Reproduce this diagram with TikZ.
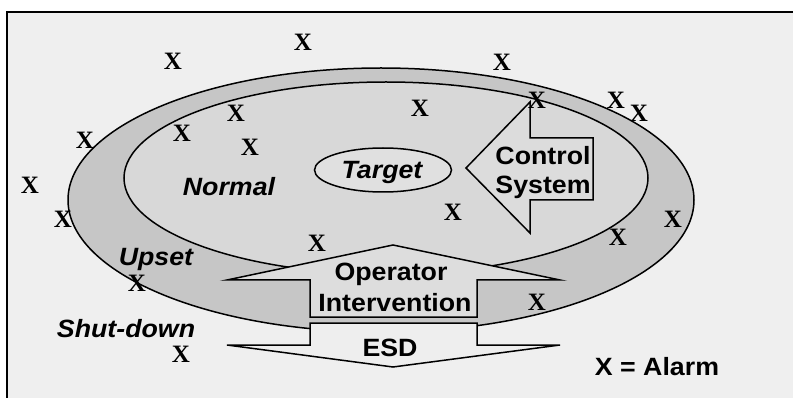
\documentclass[tikz,border=0pt]{standalone}
\usepackage{fontspec}
\usepackage{graphicx}
\setmainfont{Liberation Sans}
\newfontfamily\xfont{Liberation Serif}
\usetikzlibrary{shapes.geometric}
\definecolor{bgc}{HTML}{EFEFEF}
\definecolor{ringc}{HTML}{C6C6C6}
\definecolor{innerc}{HTML}{D8D8D8}
\definecolor{targc}{HTML}{E0E0E0}
\definecolor{ctrlc}{HTML}{DCDCDC}
\definecolor{operc}{HTML}{DDDDDD}
\definecolor{esdc}{HTML}{EEEEEE}
\newcommand{\widetxt}[1]{\scalebox{1.07}[1]{#1}}
\tikzset{
  lbl/.style={inner sep=0pt, font=\bfseries\fontsize{25}{28}\selectfont},
  ilbl/.style={inner sep=0pt, font=\bfseries\itshape\fontsize{25}{28}\selectfont},
  alarm/.style={inner sep=0pt, font=\xfont\bfseries\fontsize{25}{28}\selectfont},
  outline/.style={draw=black, line width=1.5pt, line join=miter},
}
\begin{document}
\begin{tikzpicture}[x=1pt,y=-1pt]
\useasboundingbox (0,0) rectangle (793,398);
\clip (0,0) rectangle (793,398);
\fill[white] (0,0) rectangle (793,398);
% frame
\fill[bgc] (7,12) rectangle (800,405);
\draw[line width=2.5pt] (7,405) -- (7,12) -- (800,12);
% ellipses
\draw[outline, fill=ringc] (381,200) ellipse [x radius=313, y radius=132];
\draw[outline, fill=innerc] (386,178) ellipse [x radius=262, y radius=96];
\node[ellipse, outline, fill=targc, minimum width=137pt, minimum height=44pt, inner sep=0pt] (target) at (383,170) {};
% control system arrow
\draw[outline, fill=ctrlc] (466,168) -- (530,102) -- (530,138) -- (593,138) -- (593,200) -- (530,200) -- (530,233) -- cycle;
% operator intervention arrow
\draw[outline, fill=operc] (393,245) -- (560,280) -- (477,280) -- (477,317) -- (310,317) -- (310,280) -- (227,280) -- cycle;
% ESD arrow
\draw[outline, fill=esdc] (310,323) -- (477,323) -- (477,345) -- (560,345) -- (393,367) -- (227,345) -- (310,345) -- cycle;
% labels
\node[ilbl] (tgt) at (382,172) {\widetxt{Target}};
\node[ilbl] (normal) at (229,187) {\widetxt{Normal}};
\node[ilbl] (upset) at (156,259) {\widetxt{Upset}};
\node[ilbl] (shut) at (126,329) {\widetxt{Shut-down}};
\node[lbl] (ctrl1) at (543,156) {\widetxt{Control}};
\node[lbl] (ctrl2) at (543,187) {\widetxt{System}};
\node[lbl] (op1) at (391,274) {\widetxt{Operator}};
\node[lbl] (op2) at (395,303) {\widetxt{Intervention}};
\node[lbl] (esd) at (390,348) {\widetxt{ESD}};
\node[lbl] (leg) at (657,367) {\widetxt{X = Alarm}};
% alarms
\foreach \n/\p in {a1/{(173,61)}, a2/{(303,42)}, a3/{(502,62)}, a4/{(85,140)},
  a5/{(30,185)}, a6/{(236,113)}, a7/{(182,133)}, a8/{(250,147)},
  a9/{(420,108)}, a10/{(537,100)}, a11/{(616,100)}, a12/{(639,113)},
  a13/{(63,219)}, a14/{(453,212)}, a15/{(673,219)}, a16/{(618,237)},
  a17/{(317,243)}, a18/{(137,283)}, a19/{(537,302)}, a20/{(181,354)}}
  \node[alarm] (\n) at \p {X};
\end{tikzpicture}
\end{document}
